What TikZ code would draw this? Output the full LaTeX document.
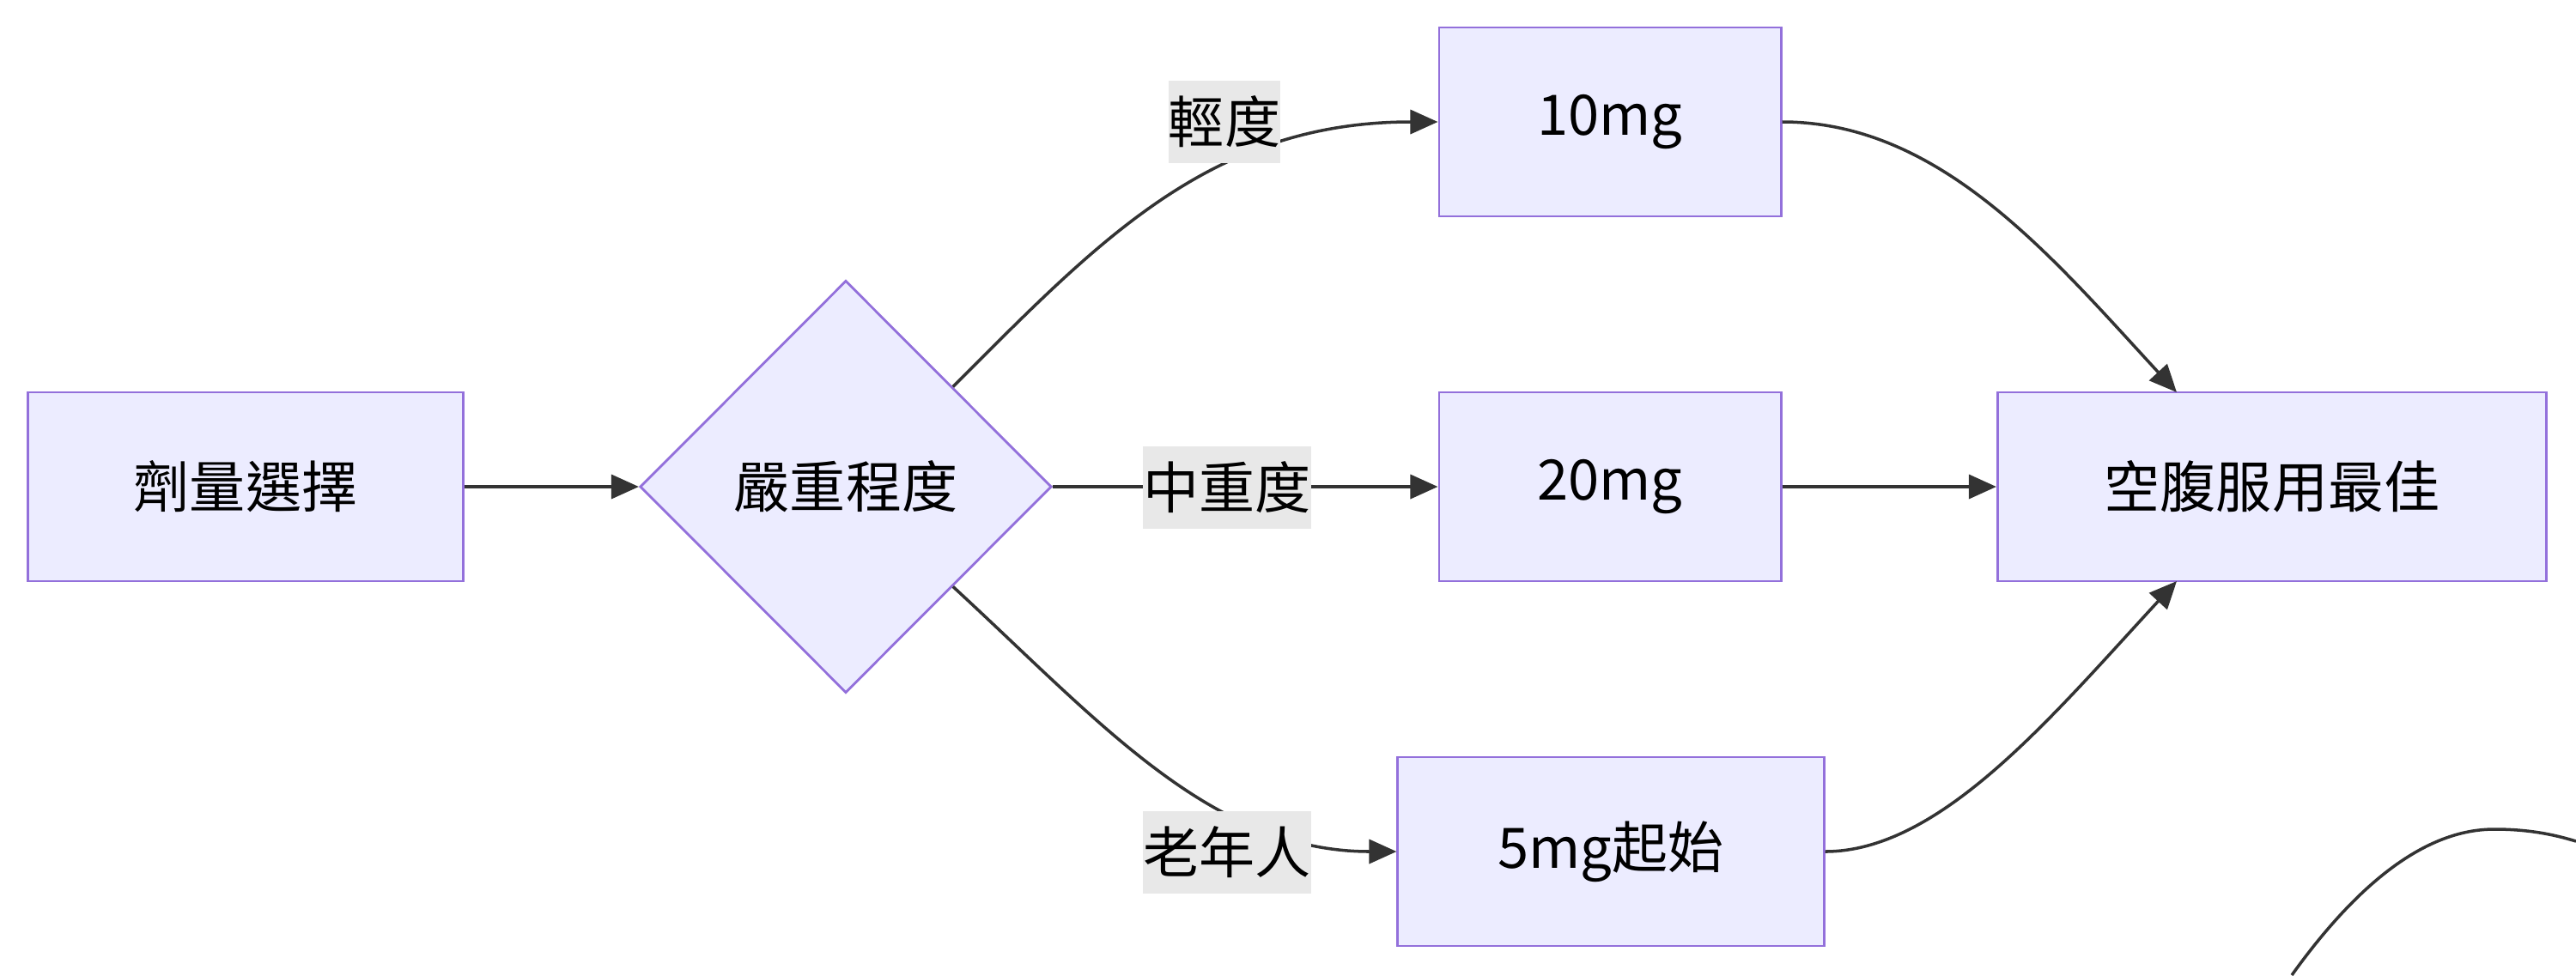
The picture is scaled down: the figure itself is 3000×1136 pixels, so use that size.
\documentclass[tikz,border=0pt]{standalone}
\usepackage{fontspec}
\setmainfont{Noto Sans CJK TC}
\usetikzlibrary{shapes.geometric,arrows.meta}
\definecolor{boxfill}{HTML}{ECECFF}
\definecolor{boxline}{HTML}{9370DB}
\definecolor{lblfill}{HTML}{E8E8E8}
\definecolor{edgecol}{HTML}{333333}

\begin{document}
\begin{tikzpicture}[x=0.01cm,y=-0.01cm,
  box/.style={draw=boxline,fill=boxfill,line width=0.8pt,minimum height=2.2cm,
    inner sep=0pt,font=\fontsize{18.5pt}{22pt}\selectfont},
  dec/.style={diamond,aspect=1,draw=boxline,fill=boxfill,line width=0.8pt,
    minimum width=4.79cm,minimum height=4.8cm,inner sep=0pt,
    font=\fontsize{18.5pt}{22pt}\selectfont},
  lbl/.style={fill=lblfill,inner xsep=0pt,minimum height=0.96cm,
    font=\fontsize{18.5pt}{22pt}\selectfont},
  edge/.style={draw=edgecol,line width=1pt,
    -{Triangle[length=0.32cm,width=0.28cm]}}]
  \useasboundingbox[fill=white] (0,0) rectangle (3000,1136);

  % nodes
  \node[box,minimum width=5.07cm] (sel) at (286,567) {劑量選擇};
  \node[dec] (sev) at (985,567) {嚴重程度};
  \node[box,minimum width=3.98cm] (d10) at (1875,142) {10mg};
  \node[box,minimum width=3.98cm] (d20) at (1875,567) {20mg};
  \node[box,minimum width=4.96cm] (d5) at (1876,992) {5mg起始};
  \node[box,minimum width=6.39cm] (best) at (2646,567) {空腹服用最佳};
  \coordinate (bestN) at (2535,457);
  \coordinate (bestS) at (2535,677);

  % connectors
  \draw[edge] (sel) -- (sev);
  \draw[edge] (sev.43) .. controls (1280,280) and (1410,142) .. (d10.west);
  \draw[edge] (sev.east) -- (d20.west);
  \draw[edge] (sev.-43) .. controls (1280,840) and (1410,992) .. (d5.west);
  \draw[edge] (d10.east) .. controls (2260,142) and (2390,300) .. (bestN);
  \draw[edge] (d20.east) -- (best.west);
  \draw[edge] (d5.east) .. controls (2260,992) and (2390,834) .. (bestS);

  % edge labels
  \node[lbl] (lmild) at (1426,142) {輕度};
  \node[lbl] (lmod) at (1429,568) {中重度};
  \node[lbl] (lold) at (1429,993) {老年人};

  % stray curve at the lower right
  \draw[edgecol,line width=1pt] (2669,1136) .. controls (2770,995) and (2850,966) .. (2905,966)
    .. controls (2950,966) and (2980,974) .. (3000,980);
\end{tikzpicture}
\end{document}
